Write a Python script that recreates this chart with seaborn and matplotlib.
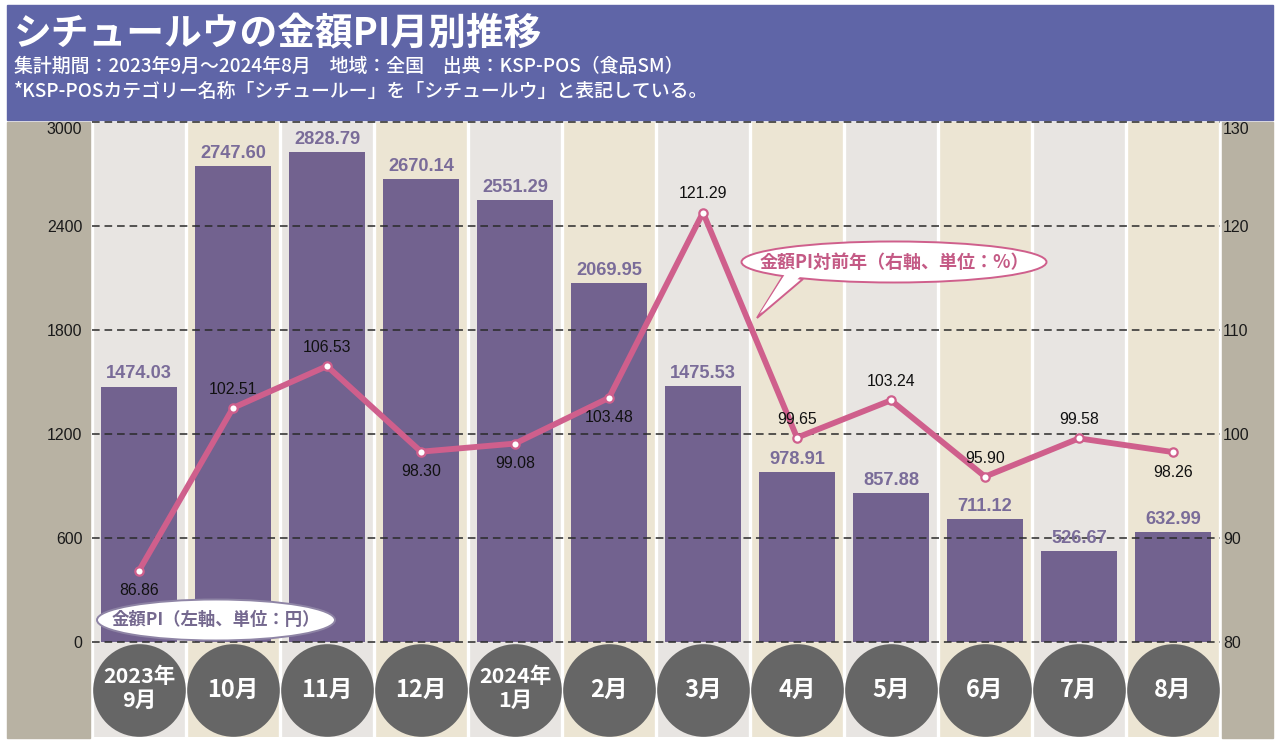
import matplotlib
matplotlib.use("Agg")
import matplotlib.pyplot as plt
import seaborn as sns
import numpy as np
import pandas as pd
from matplotlib.patches import Rectangle, Ellipse, Polygon
from matplotlib import font_manager

# ---------------- data ----------------
months = ["2023年\n9月", "10月", "11月", "12月", "2024年\n1月", "2月",
          "3月", "4月", "5月", "6月", "7月", "8月"]
pi_values = [1474.03, 2747.60, 2828.79, 2670.14, 2551.29, 2069.95,
             1475.53, 978.91, 857.88, 711.12, 526.67, 632.99]
yoy_values = [86.86, 102.51, 106.53, 98.30, 99.08, 103.48,
              121.29, 99.65, 103.24, 95.90, 99.58, 98.26]
yoy_label_side = ["below", "above", "above", "below", "below", "below",
                  "above", "above", "above", "above", "above", "below"]
left_ticks = [0, 600, 1200, 1800, 2400, 3000]
right_ticks = [80, 90, 100, 110, 120, 130]

title = "シチュールウの金額PI月別推移"
sub1 = "集計期間：2023年9月～2024年8月　地域：全国　出典：KSP-POS（食品SM）"
sub2 = "*KSP-POSカテゴリー名称「シチュールー」を「シチュールウ」と表記している。"
callout_left = "金額PI（左軸、単位：円）"
callout_right = "金額PI対前年（右軸、単位：%）"

# ---------------- style ----------------
sns.set_theme(style="white")
names = {f.name for f in font_manager.fontManager.ttflist}
JP = ["Noto Sans CJK JP", "DejaVu Sans"]
if "Liberation Sans Narrow" in names:
    NUM = ["Liberation Sans Narrow", "DejaVu Sans"]
    nscale = 1.0
else:
    NUM = ["Liberation Sans", "DejaVu Sans"]
    nscale = 0.82
plt.rcParams["font.family"] = JP

W, H = 1280, 742
fig = plt.figure(figsize=(W / 100, H / 100), dpi=100)
fig.patch.set_facecolor("white")

def fx(px):
    return px / W

def fy(py):
    return 1 - py / H

HEADER = "#5F65A7"
TAN = "#B8B2A3"
GRAY = "#E8E5E2"
CREAM = "#ECE5D3"
BAR = "#72628F"
BARTXT = "#7A6C99"
LINE = "#CF5F8C"
CIRC = "#666666"

# header band and side margins
fig.add_artist(Rectangle((fx(7), fy(120)), fx(1273) - fx(7), fy(5) - fy(120),
                         transform=fig.transFigure, color=HEADER, zorder=-2))
fig.add_artist(Rectangle((fx(7), fy(738)), fx(90) - fx(7), fy(122) - fy(738),
                         transform=fig.transFigure, color=TAN, zorder=-2))
fig.add_artist(Rectangle((fx(1222), fy(738)), fx(1273) - fx(1222), fy(122) - fy(738),
                         transform=fig.transFigure, color=TAN, zorder=-2))

fig.text(fx(14), fy(34), title, color="white", fontsize=27.2, fontweight="bold",
         va="center", ha="left", family=JP)
fig.text(fx(14), fy(66), sub1, color="white", fontsize=13.6, fontweight="medium",
         va="center", ha="left", family=JP)
fig.text(fx(14), fy(91), sub2, color="white", fontsize=13.6, fontweight="medium",
         va="center", ha="left", family=JP)

# ---------------- axes ----------------
ax = fig.add_axes([fx(92), fy(737), fx(1220) - fx(92), fy(122) - fy(737)])
ax.set_facecolor("white")
px_per_unit = (642 - 226) / 2400.0
ybottom = -(737 - 642) / px_per_unit
ax.set_xlim(-0.5, len(months) - 0.5)
ax.set_ylim(ybottom, 3000)

for i in range(len(months)):
    ax.axvspan(i - 0.5, i + 0.5, color=GRAY if i % 2 == 0 else CREAM, lw=0, zorder=0)
for i in range(len(months) + 1):
    ax.axvline(i - 0.5, color="white", lw=2.4, zorder=0.5)

df = pd.DataFrame({"month": months, "pi": pi_values, "yoy": yoy_values,
                   "pos": np.arange(len(months))})

sns.barplot(data=df, x="month", y="pi", order=months, color=BAR, saturation=1,
            width=0.8, ax=ax, zorder=2, edgecolor="none")

for i, v in enumerate(pi_values):
    ax.annotate(f"{v:.2f}", (i, v), xytext=(0, 3), textcoords="offset points",
                ha="center", va="bottom", fontsize=16 * nscale, fontweight="bold",
                color=BARTXT, family=NUM, zorder=4)

for t in left_ticks:
    ax.plot([-0.5, len(months) - 0.5], [t, t], ls=(0, (5, 3.2)), color="#2a2a2a",
            lw=1.1, zorder=3, clip_on=False)

ax.set_yticks(left_ticks)
ax.set_yticklabels([str(t) for t in left_ticks], family=NUM, fontsize=14 * nscale,
                   color="#1a1a1a")
for lab in ax.get_yticklabels():
    if lab.get_text() == "3000":
        lab.set_verticalalignment("top")
ax.tick_params(axis="y", length=0, pad=7)
ax.set_xticks([])
ax.set_xlabel("")
ax.set_ylabel("")
for s in ax.spines.values():
    s.set_visible(False)

# circles with month labels
circle_y = -(690 - 642) / px_per_unit
ax.scatter(np.arange(len(months)), [circle_y] * len(months), s=4450, color=CIRC,
           zorder=3, clip_on=False, linewidths=0)
for i, m in enumerate(months):
    two = "\n" in m
    ax.text(i, circle_y + (8 if two else 0), m, ha="center", va="center", color="white",
            fontsize=15.5 if two else 17, fontweight="bold", family=JP,
            linespacing=1.15, zorder=4)

# ---------------- line (right axis) ----------------
ax2 = ax.twinx()
rpx_per_unit = (642 - 122) / 50.0
ax2.set_ylim(80 - (737 - 642) / rpx_per_unit, 130)
ax2.set_xlim(-0.5, len(months) - 0.5)
sns.lineplot(data=df, x="pos", y="yoy", ax=ax2, color=LINE, lw=4.2, marker="o",
             markersize=6, markerfacecolor="white", markeredgecolor=LINE,
             markeredgewidth=1.6, zorder=5)
for i, (v, side) in enumerate(zip(yoy_values, yoy_label_side)):
    off = 8 if side == "above" else -9
    ax2.annotate(f"{v:.2f}", (i, v), xytext=(0, off), textcoords="offset points",
                 ha="center", va="bottom" if side == "above" else "top",
                 fontsize=14 * nscale, color="#111111", family=NUM, zorder=6)
ax2.set_yticks(right_ticks)
ax2.set_yticklabels([str(t) for t in right_ticks], family=NUM, fontsize=14 * nscale,
                    color="#1a1a1a")
for lab in ax2.get_yticklabels():
    if lab.get_text() == "130":
        lab.set_verticalalignment("top")
ax2.tick_params(axis="y", length=0, pad=2)
ax2.set_xlabel("")
ax2.set_ylabel("")
ax2.set_xticks([])
for s in ax2.spines.values():
    s.set_visible(False)

# ---------------- callouts ----------------
e1 = Ellipse((fx(216), fy(620)), fx(238), 41 / H, transform=fig.transFigure,
             facecolor="white", edgecolor="#8E84A5", lw=1.4, zorder=10)
fig.add_artist(e1)
fig.text(fx(216), fy(620), callout_left, ha="center", va="center", color="#75698F",
         fontsize=12.5, fontweight="bold", family=JP, zorder=11)

tail_pts = [(fx(783), fy(276)), (fx(757), fy(318)), (fx(803), fy(279))]
fig.add_artist(Polygon(tail_pts, closed=True, transform=fig.transFigure,
                       facecolor="white", edgecolor=LINE, lw=1.4, zorder=10))
e2 = Ellipse((fx(894), fy(262)), fx(305), 41 / H, transform=fig.transFigure,
             facecolor="white", edgecolor=LINE, lw=1.4, zorder=10.5)
fig.add_artist(e2)
cover = [(fx(785), fy(274)), (fx(759.5), fy(314)), (fx(801), fy(276))]
fig.add_artist(Polygon(cover, closed=True, transform=fig.transFigure,
                       facecolor="white", edgecolor="none", zorder=10.7))
fig.text(fx(894), fy(262), callout_right, ha="center", va="center", color="#C45A85",
         fontsize=13, fontweight="bold", family=JP, zorder=11)

fig.savefig("out.png", dpi=100, facecolor=fig.get_facecolor())
